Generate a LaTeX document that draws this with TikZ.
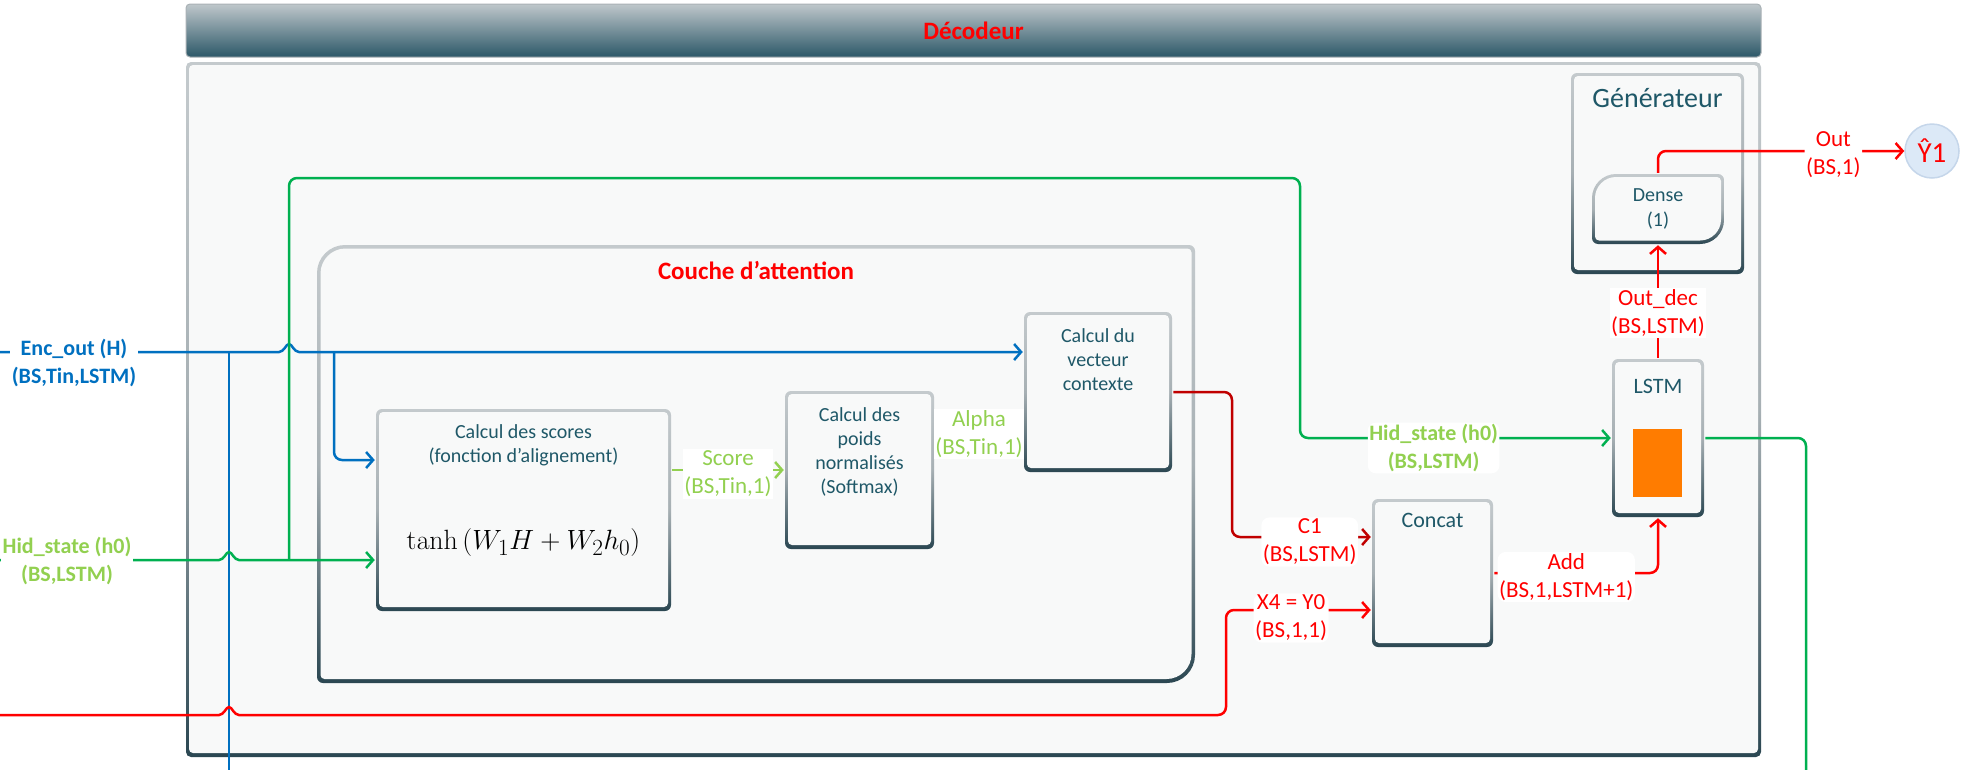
\documentclass[tikz,border=0pt]{standalone}
\usepackage[no-math]{fontspec}
\setmainfont{Carlito}
\usepackage{xcolor}
\definecolor{ff0000}{HTML}{FF0000}
\definecolor{c00000}{HTML}{C00000}
\definecolor{0070c0}{HTML}{0070C0}
\definecolor{00b050}{HTML}{00B050}
\definecolor{92d050}{HTML}{92D050}
\definecolor{1f5868}{HTML}{1F5868}
\definecolor{ff7c00}{HTML}{FF7C00}
\definecolor{dce9f7}{HTML}{DCE9F7}
\definecolor{c5d6ea}{HTML}{C5D6EA}
\definecolor{f8f9f9}{HTML}{F8F9F9}
\definecolor{c4cacd}{HTML}{C4CACD}
\definecolor{a7b0b4}{HTML}{A7B0B4}
\definecolor{2b4752}{HTML}{2B4752}
\definecolor{bfc7cb}{HTML}{BFC7CB}
\definecolor{2c5868}{HTML}{2C5868}
\definecolor{a9b1b5}{HTML}{A9B1B5}
\usepackage{tikz}
\usetikzlibrary{positioning}
\usetikzlibrary{arrows.meta}

\begin{document}
\begin{tikzpicture}[x=1pt, y=-1pt, line width=2.5pt,
        arr/.style={-{Straight Barb[length=7pt, width=16pt]}},
        box/.style={rectangle, rounded corners=6pt, top color=c4cacd, bottom color=2b4752, middle color=a7b0b4, inner sep=0pt,
            path picture={\fill[f8f9f9, rounded corners=4pt] ([shift={(3pt,-3pt)}]path picture bounding box.north west) rectangle ([shift={(-3pt,4pt)}]path picture bounding box.south east);}},
        dshape/.style n args={6}{insert path={(#1,#2+#5) .. controls (#1,#2+0.45*#5) and (#1+0.45*#5,#2) .. (#1+#5,#2) -- (#3-#6,#2) .. controls (#3-0.45*#6,#2) and (#3,#2+0.45*#6) .. (#3,#2+#6) -- (#3,#4-#5) .. controls (#3,#4-0.45*#5) and (#3-0.45*#5,#4) .. (#3-#5,#4) -- (#1+#6,#4) .. controls (#1+0.45*#6,#4) and (#1,#4-0.45*#6) .. (#1,#4-#6) -- cycle}},
        hop/.style 2 args={insert path={-- (#1-10,#2) .. controls (#1-5,#2) and (#1-3,#2-8) .. (#1,#2-8) .. controls (#1+3,#2-8) and (#1+5,#2) .. (#1+10,#2)}},
        boxtext/.style={text=1f5868, align=center, inner sep=0pt, font=\fontsize{20}{24}\selectfont},
        lab/.style={fill=white, align=center, inner sep=1.5pt, font=\fontsize{23}{28}\selectfont},
        boldlab/.style={lab, font=\fontsize{22}{28}\selectfont\bfseries}]
    \useasboundingbox (0,0) rectangle (1965,769);

    \node[rectangle, rounded corners=4pt, top color=bfc7cb, bottom color=2c5868, draw=a9b1b5, line width=1pt, minimum width=1575pt, minimum height=53pt, text=ff0000, font=\fontsize{25}{30}\selectfont\bfseries] (decodeur) at (973.5,30.5) {Décodeur};
    \node[box, rounded corners=5pt, minimum width=1575pt, minimum height=695pt] (decbox) at (973.5,409.5) {};

    \shade[top color=c4cacd, bottom color=2b4752, middle color=a7b0b4, dshape={317}{245}{1195}{683}{28}{6}];
    \fill[f8f9f9, dshape={320.5}{248.5}{1191.5}{679}{25}{4}];
    \node[font=\fontsize{25}{30}\selectfont\bfseries, text=ff0000] (atttxt) at (756,270) {Couche d’attention};

    \foreach \name/\x/\y/\w/\h in {scores/523.5/510/295/202, poids/859.5/470/149/158, vect/1098/392/148/160, concat/1432.5/573/121/148, lstm/1658/438/92/158, gen/1657.5/173.5/173/201} {
        \node[box, minimum width=\w, minimum height=\h] (\name) at (\x,\y) {};
    }

    \shade[top color=c4cacd, bottom color=2b4752, middle color=a7b0b4, dshape={1592}{174}{1724}{244}{24}{6}];
    \fill[f8f9f9, dshape={1595}{177}{1721}{240.5}{21}{4}];
    \node[boxtext, font=\fontsize{20}{25}\selectfont, minimum width=132pt, minimum height=70pt] (dense) at (1658,209) {Dense\\(1)};

    \node[boxtext, below=16pt of scores.north] (scorestxt) {Calcul des scores\\(fonction d’alignement)};
    \node[inner sep=0pt, font=\fontsize{24.88}{30}\selectfont, scale=1.12, transform shape] (formula) at ([yshift=-33pt]scores.center) {$\tanh\left(W_1H+W_2h_0\right)$};
    \node[boxtext, below=17pt of poids.north] (poidstxt) {Calcul des\\poids\\normalisés\\(Softmax)};
    \node[boxtext, below=17pt of vect.north] (vecttxt) {Calcul du\\vecteur\\contexte};
    \node[boxtext, font=\fontsize{22}{26}\selectfont, below=14pt of concat.north] (concattxt) {Concat};
    \node[boxtext, font=\fontsize{22}{26}\selectfont, below=20pt of lstm.north] (lstmtxt) {LSTM};
    \node[boxtext, font=\fontsize{28}{34}\selectfont, below=15pt of gen.north] (gentxt) {Générateur};
    \node[fill=ff7c00, minimum width=49pt, minimum height=68pt, inner sep=0pt] (cell) at (1657.5,463) {};
    \node[circle, minimum size=54pt, inner sep=0pt, fill=dce9f7, draw=c5d6ea, line width=1.5pt, text=ff0000, font=\fontsize{29}{30}\selectfont] (yhat) at (1932,151) {Ŷ1};

    \coordinate (encin) at (0,352);
    \coordinate (encsplit) at (229,352);
    \coordinate (enctap) at (334,352);
    \coordinate (encdown) at (229,780);
    \coordinate (hidin) at (0,560);
    \coordinate (hidtap) at (289,560);
    \coordinate (xin) at (0,715);
    \coordinate (hidout) at (1806,780);

    \draw[0070c0, arr] (encin) [hop={289}{352}] -- (vect.west |- encin);
    \draw[0070c0] (encsplit) -- (encdown);
    \draw[0070c0, arr, rounded corners=8pt] (enctap) |- (scores.west |- 0,460);
    \draw[00b050, arr] (hidin) [hop={229}{560}] -- (scores.west |- hidin);
    \draw[00b050, arr, rounded corners=8pt] (hidtap) |- (1300,178) |- node[boldlab, text=92d050, pos=0.715, yshift=-10pt] (hidlab2) {Hid\_state (h0)\\(BS,LSTM)} (lstm.west);
    \draw[00b050, rounded corners=8pt] (lstm.east) -| (hidout);
    \draw[92d050, arr] (scores.east |- poids.west) -- node[lab, text=92d050, yshift=-4pt] (scorelab) {Score\\(BS,Tin,1)} (poids.west);
    \draw[92d050, arr] (poids.east |- 0,434) -- node[lab, text=92d050] (alphalab) {Alpha\\(BS,Tin,1)} (vect.west |- 0,434);
    \draw[c00000, arr, rounded corners=8pt] (vect.east) -| (1232,537) -- node[lab, text=ff0000, pos=0.56, yshift=-5pt] (c1lab) {C1\\(BS,LSTM)} (concat.west |- 0,537);
    \draw[ff0000, arr] (xin) [hop={229}{715}] [rounded corners=8pt] -- (1226,715) |- node[lab, text=ff0000, pos=0.725, yshift=-8pt] (x4lab) {X4 = Y0\\(BS,1,1)} (concat.west |- 0,610);
    \draw[ff0000, arr, rounded corners=8pt] (concat.east) -| node[lab, text=ff0000, pos=0.22, yshift=-4pt] (addlab) {Add\\(BS,1,LSTM+1)} (lstm.south);
    \draw[ff0000, arr] (lstm.north) -- node[lab, text=ff0000, pos=0.4] (outdeclab) {Out\_dec\\(BS,LSTM)} (dense.south);
    \draw[ff0000, arr, rounded corners=8pt] (dense.north) |- node[lab, text=ff0000, pos=0.856, yshift=-4pt] (outlab) {Out\\(BS,1)} (yhat.west);

    \node[boldlab, text=0070c0] (enclab) at (74,363) {Enc\_out (H)\\(BS,Tin,LSTM)};
    \node[boldlab, text=92d050] (hidlab) at (67,561) {Hid\_state (h0)\\(BS,LSTM)};
\end{tikzpicture}
\end{document}
